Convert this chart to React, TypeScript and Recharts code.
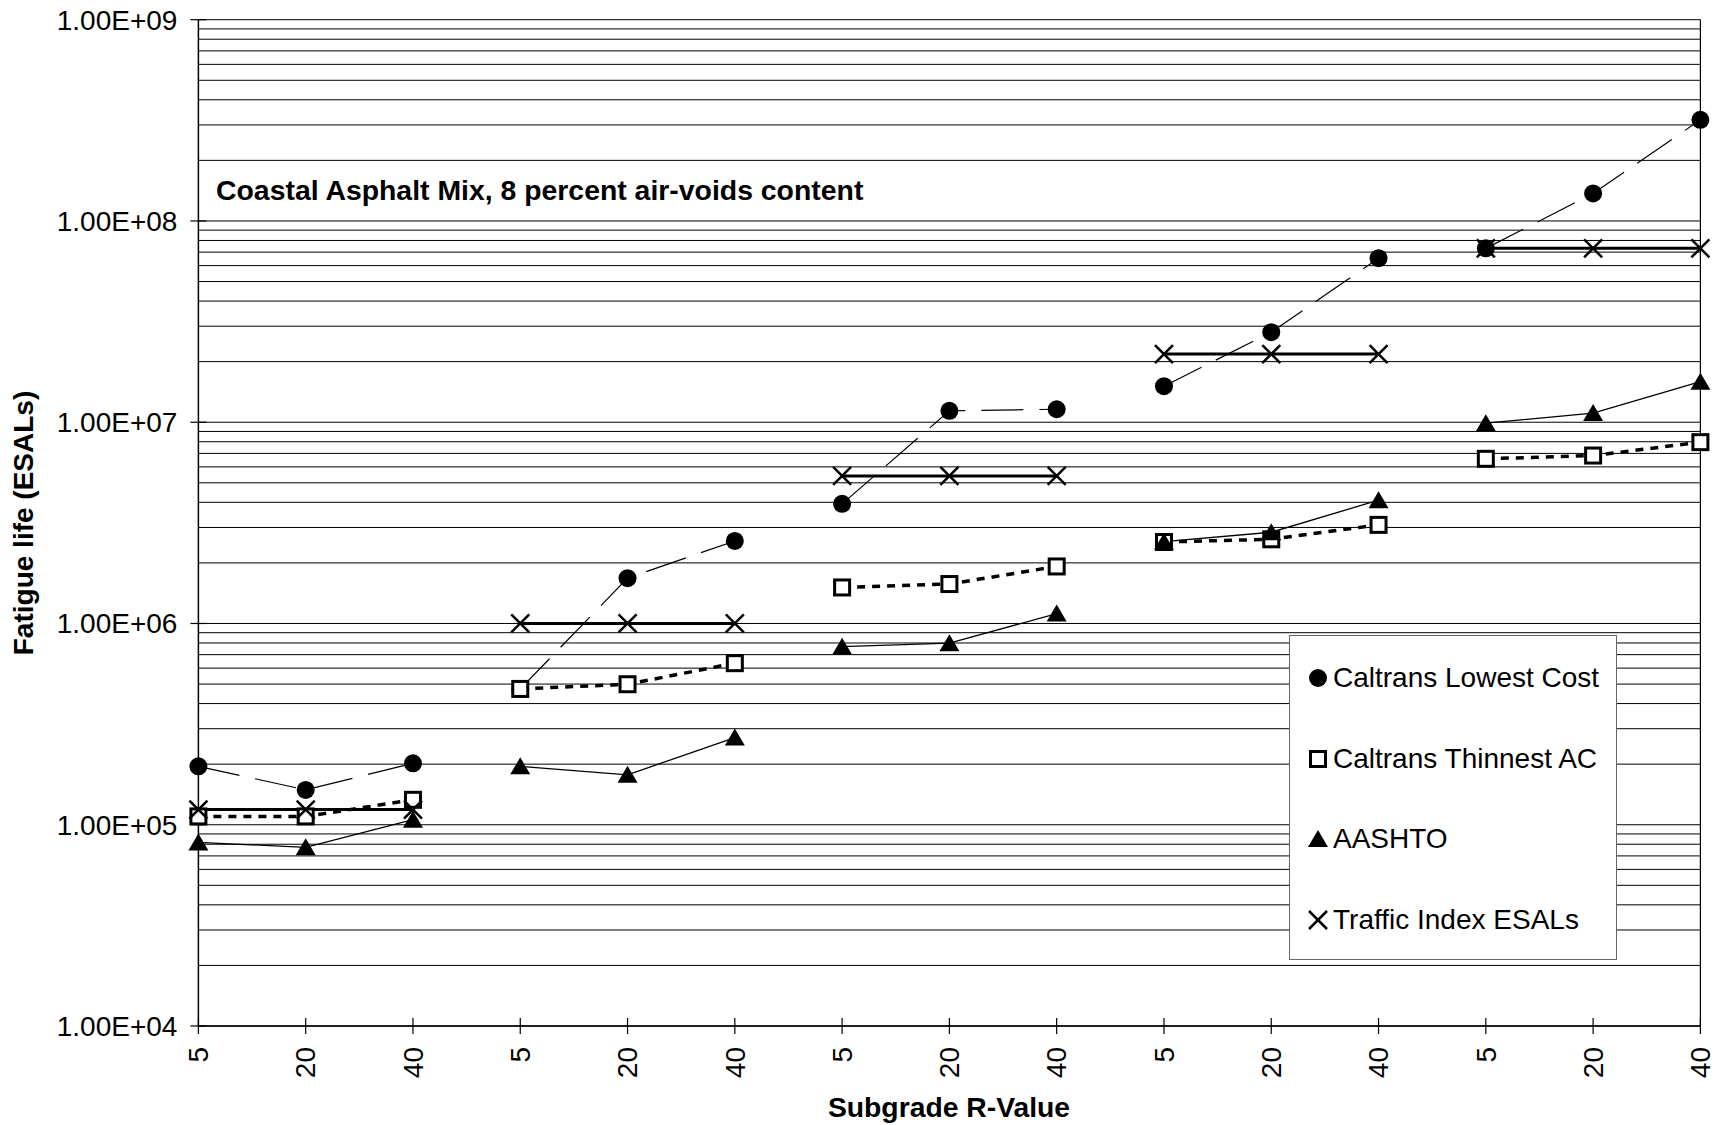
import React from "react";
import { LineChart, Line, XAxis, YAxis, ReferenceLine } from "recharts";

// subgrade R-values, five groups of three
const rValues = ["5", "20", "40", "5", "20", "40", "5", "20", "40", "5", "20", "40", "5", "20", "40"];
const groupIds = [0, 1, 2, 3, 4];

const lowestCost = [1.95e5, 1.49e5, 2.02e5, 4.73e5, 1.68e6, 2.57e6, 3.93e6, 1.14e7, 1.16e7, 1.51e7, 2.8e7, 6.53e7, 7.31e7, 1.37e8, 3.18e8];
const thinnestAC = [1.1e5, 1.1e5, 1.33e5, 4.73e5, 4.99e5, 6.35e5, 1.51e6, 1.57e6, 1.92e6, 2.54e6, 2.62e6, 3.09e6, 6.58e6, 6.83e6, 7.96e6];
const aashto = [8.17e4, 7.72e4, 1.06e5, 1.95e5, 1.77e5, 2.71e5, 7.67e5, 7.98e5, 1.12e6, 2.55e6, 2.84e6, 4.1e6, 9.89e6, 1.11e7, 1.59e7];
const trafficIndex = [1.19e5, 1.19e5, 1.19e5, 1.0e6, 1.0e6, 1.0e6, 5.41e6, 5.41e6, 5.41e6, 2.18e7, 2.18e7, 2.18e7, 7.31e7, 7.31e7, 7.31e7];

const yTicks = [1e4, 1e5, 1e6, 1e7, 1e8, 1e9];
const gridMults = [1, 2, 3, 4, 5, 6, 7, 8, 9];

const series = [
  { key: "lc", name: "Caltrans Lowest Cost", values: lowestCost, shape: "circle", dash: "42 16", width: 1.2 },
  { key: "th", name: "Caltrans Thinnest AC", values: thinnestAC, shape: "square", dash: "8 7", width: 3.5 },
  { key: "aa", name: "AASHTO", values: aashto, shape: "triangle", dash: undefined, width: 1.3 },
  { key: "ti", name: "Traffic Index ESALs", values: trafficIndex, shape: "cross", dash: undefined, width: 3 },
];

const chartData = rValues.map((r, i) => {
  const g = Math.floor(i / 3);
  const row: any = { i, r };
  series.forEach((s) => {
    row[`${s.key}${g}`] = s.values[i];
  });
  return row;
});

const gridValues: number[] = [];
yTicks.slice(0, 5).forEach((d) => gridMults.forEach((m) => gridValues.push(d * m)));
gridValues.push(1e9);

const fmtSci = (v: number) => {
  const e = Math.round(Math.log10(v));
  return `1.00E+${String(e).padStart(2, "0")}`;
};

const FONT = "'Liberation Sans', Arial, Helvetica, sans-serif";

const Marker = ({ shape, cx, cy, size }: any) => {
  const h = size / 2;
  if (shape === "circle") return <circle cx={cx} cy={cy} r={h} fill="#000" />;
  if (shape === "square")
    return <rect x={cx - h + 1.5} y={cy - h + 1.5} width={size - 3} height={size - 3} fill="#fff" stroke="#000" strokeWidth={3} />;
  if (shape === "triangle")
    return <polygon points={`${cx},${cy - h} ${cx + h + 1},${cy + h - 1} ${cx - h - 1},${cy + h - 1}`} fill="#000" />;
  return (
    <g stroke="#000" strokeWidth={2.5}>
      <line x1={cx - h} y1={cy - h} x2={cx + h} y2={cy + h} />
      <line x1={cx - h} y1={cy + h} x2={cx + h} y2={cy - h} />
    </g>
  );
};

const makeDot = (shape: string) => (props: any) => {
  const { cx, cy, value, index } = props;
  if (cx == null || cy == null || value == null) return <g key={index} />;
  return (
    <g key={index}>
      <Marker shape={shape} cx={cx} cy={cy} size={18} />
    </g>
  );
};

const YTick = (props: any) => {
  const { x, y, payload } = props;
  return (
    <g>
      <line x1={x + 13} x2={x + 29} y1={y} y2={y} stroke="#000" strokeWidth={1.2} />
      <text x={x} y={y} dy="0.35em" textAnchor="end" fontSize={28} fontFamily={FONT} fill="#000">
        {fmtSci(payload.value)}
      </text>
    </g>
  );
};

const XTick = (props: any) => {
  const { x, y, payload } = props;
  return (
    <g>
      <line x1={x} x2={x} y1={y - 29} y2={y - 13} stroke="#000" strokeWidth={1.2} />
      <text
        x={x}
        y={y}
        dy="0.35em"
        textAnchor="end"
        transform={`rotate(-90, ${x}, ${y})`}
        fontSize={28}
        fontFamily={FONT}
        fill="#000"
      >
        {rValues[payload.value]}
      </text>
    </g>
  );
};

const App = () => {
  return (
    <div style={{ position: "absolute", left: 0, top: 0, width: 1719, height: 1125, background: "#fff", fontFamily: FONT }}>
      <LineChart
        width={1719}
        height={1125}
        data={chartData}
        margin={{ top: 19.7, right: 18.6, bottom: 0, left: 0 }}
      >
        <XAxis
          dataKey="i"
          type="number"
          domain={[0, 14]}
          ticks={rValues.map((_, i) => i)}
          interval={0}
          height={99}
          tickSize={8}
          tickMargin={13}
          tickLine={false}
          tick={<XTick />}
          axisLine={{ stroke: "#000", strokeWidth: 1.5 }}
        />
        <YAxis
          type="number"
          scale="log"
          domain={[1e4, 1e9]}
          allowDataOverflow
          ticks={yTicks}
          interval={0}
          width={198.4}
          tickSize={8}
          tickMargin={13}
          tickLine={false}
          tick={<YTick />}
          axisLine={{ stroke: "#000", strokeWidth: 1.5 }}
        />
        {gridValues.map((v) => (
          <ReferenceLine key={`g${v}`} y={v} stroke="#000" strokeWidth={1} />
        ))}
        <ReferenceLine x={14} stroke="#000" strokeWidth={1.2} />
        {series.map((s) =>
          groupIds.map((g) => (
            <Line
              key={`${s.key}${g}`}
              dataKey={`${s.key}${g}`}
              stroke="#000"
              strokeWidth={s.width}
              strokeDasharray={s.dash}
              dot={makeDot(s.shape)}
              activeDot={false}
              connectNulls={false}
              isAnimationActive={false}
              legendType="none"
            />
          ))
        )}
      </LineChart>

      <div style={{ position: "absolute", left: 216, top: 174, fontSize: 28.4, lineHeight: "32px", fontWeight: "bold", whiteSpace: "nowrap" }}>
        Coastal Asphalt Mix, 8 percent air-voids content
      </div>

      <div
        style={{
          position: "absolute",
          left: 24,
          top: 523,
          fontSize: 28,
          fontWeight: "bold",
          whiteSpace: "nowrap",
          transform: "translate(-50%, -50%) rotate(-90deg)",
        }}
      >
        Fatigue life (ESALs)
      </div>

      <div
        style={{
          position: "absolute",
          left: 949,
          top: 1107,
          fontSize: 28.3,
          fontWeight: "bold",
          whiteSpace: "nowrap",
          transform: "translate(-50%, -50%)",
        }}
      >
        Subgrade R-Value
      </div>

      {/* legend */}
      <div
        style={{
          position: "absolute",
          left: 1289,
          top: 635,
          width: 328,
          height: 325,
          border: "1.5px solid #666",
          background: "#fff",
          boxSizing: "border-box",
        }}
      >
        {series.map((s, idx) => (
          <div
            key={s.key}
            style={{ position: "absolute", left: 0, top: 42 + idx * 80.5 - 16, height: 32, display: "flex", alignItems: "center" }}
          >
            <svg width={40} height={32} style={{ position: "absolute", left: 8, top: 0 }}>
              <Marker shape={s.shape} cx={20} cy={16} size={18} />
            </svg>
            <span style={{ position: "absolute", left: 43, fontSize: 28, lineHeight: "32px", whiteSpace: "nowrap" }}>{s.name}</span>
          </div>
        ))}
      </div>
    </div>
  );
};

export default App;
